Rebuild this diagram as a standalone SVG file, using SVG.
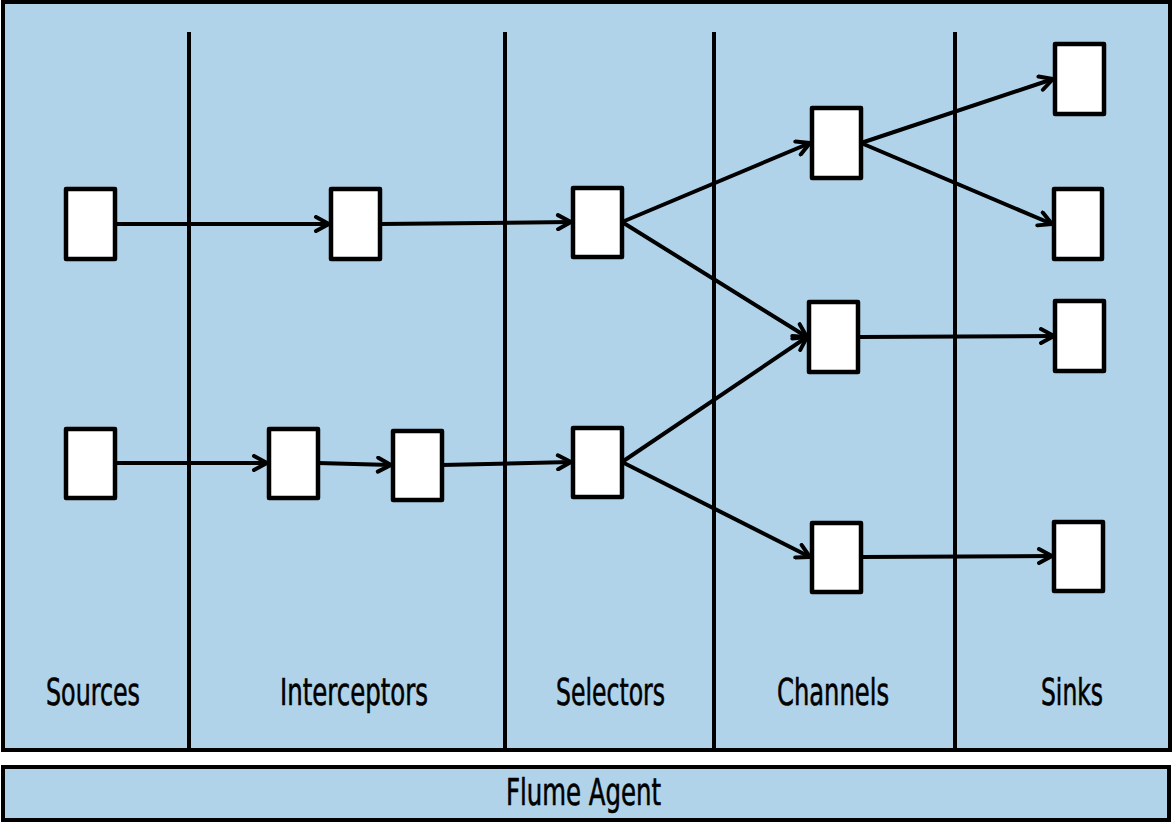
<svg xmlns="http://www.w3.org/2000/svg" width="1172" height="823" viewBox="0 0 1172 823">
<defs>
<style>
.panel{fill:#b1d3e9;stroke:#000;stroke-width:4}
.div{stroke:#000;stroke-width:4;fill:none}
.node rect{fill:#fff;stroke:#000;stroke-width:4.5;stroke-linejoin:round}
.edge{stroke:#000;stroke-width:4;fill:none;marker-end:url(#arrow)}
.lbl{font-family:"Liberation Sans Narrow","DejaVu Sans Condensed","Liberation Sans",Arial,sans-serif;font-size:38px;fill:#000;stroke:#000;stroke-width:0.6}
</style>
<marker id="arrow" viewBox="0 0 18 18" refX="16" refY="9" markerWidth="18" markerHeight="18" markerUnits="userSpaceOnUse" orient="auto">
<path d="M3,2 L16,9 L3,16" fill="none" stroke="#000" stroke-width="4" stroke-linecap="round" stroke-linejoin="round"/>
</marker>
</defs>
<rect width="1172" height="823" fill="#fff"/>
<g id="agent-frame">
<rect class="panel" x="3" y="2" width="1167" height="748"/>
<line class="div" x1="189" y1="32" x2="189" y2="750"/>
<line class="div" x1="505" y1="32" x2="505" y2="750"/>
<line class="div" x1="714" y1="32" x2="714" y2="750"/>
<line class="div" x1="955" y1="32" x2="955" y2="750"/>
<text class="lbl" x="46" y="705" textLength="94" lengthAdjust="spacingAndGlyphs">Sources</text>
<text class="lbl" x="280" y="705" textLength="148" lengthAdjust="spacingAndGlyphs">Interceptors</text>
<text class="lbl" x="556" y="705" textLength="109" lengthAdjust="spacingAndGlyphs">Selectors</text>
<text class="lbl" x="777" y="705" textLength="112" lengthAdjust="spacingAndGlyphs">Channels</text>
<text class="lbl" x="1041" y="705" textLength="62" lengthAdjust="spacingAndGlyphs">Sinks</text>
</g>
<g id="flume-agent">
<rect class="panel" x="3" y="767" width="1166" height="53"/>
<text class="lbl" x="506" y="805" textLength="155" lengthAdjust="spacingAndGlyphs">Flume Agent</text>
</g>
<g id="connectors">
<line class="edge" x1="115" y1="224" x2="329" y2="224"/>
<line class="edge" x1="380" y1="224" x2="571" y2="222"/>
<line class="edge" x1="115" y1="463" x2="267" y2="463"/>
<line class="edge" x1="318" y1="463" x2="391" y2="465"/>
<line class="edge" x1="442" y1="465" x2="571" y2="462"/>
<line class="edge" x1="622" y1="222" x2="810" y2="143"/>
<line class="edge" x1="622" y1="222" x2="807" y2="337"/>
<line class="edge" x1="622" y1="462" x2="807" y2="337"/>
<line class="edge" x1="622" y1="462" x2="810" y2="557"/>
<line class="edge" x1="861" y1="143" x2="1053" y2="79"/>
<line class="edge" x1="861" y1="143" x2="1052" y2="224"/>
<line class="edge" x1="858" y1="337" x2="1054" y2="336"/>
<line class="edge" x1="861" y1="557" x2="1052" y2="556"/>
</g>
<g id="source-1" class="node"><rect x="66" y="189" width="49" height="70"/></g>
<g id="source-2" class="node"><rect x="66" y="429" width="49" height="69"/></g>
<g id="interceptor-1" class="node"><rect x="331" y="189" width="49" height="70"/></g>
<g id="interceptor-2" class="node"><rect x="269" y="429" width="49" height="69"/></g>
<g id="interceptor-3" class="node"><rect x="393" y="431" width="49" height="69"/></g>
<g id="selector-1" class="node"><rect x="573" y="188" width="49" height="69"/></g>
<g id="selector-2" class="node"><rect x="573" y="428" width="49" height="69"/></g>
<g id="channel-1" class="node"><rect x="812" y="108" width="49" height="70"/></g>
<g id="channel-2" class="node"><rect x="809" y="302" width="49" height="70"/></g>
<g id="channel-3" class="node"><rect x="812" y="523" width="49" height="69"/></g>
<g id="sink-1" class="node"><rect x="1055" y="44" width="49" height="70"/></g>
<g id="sink-2" class="node"><rect x="1054" y="189" width="48" height="70"/></g>
<g id="sink-3" class="node"><rect x="1055" y="301" width="49" height="70"/></g>
<g id="sink-4" class="node"><rect x="1054" y="522" width="49" height="69"/></g>
</svg>
